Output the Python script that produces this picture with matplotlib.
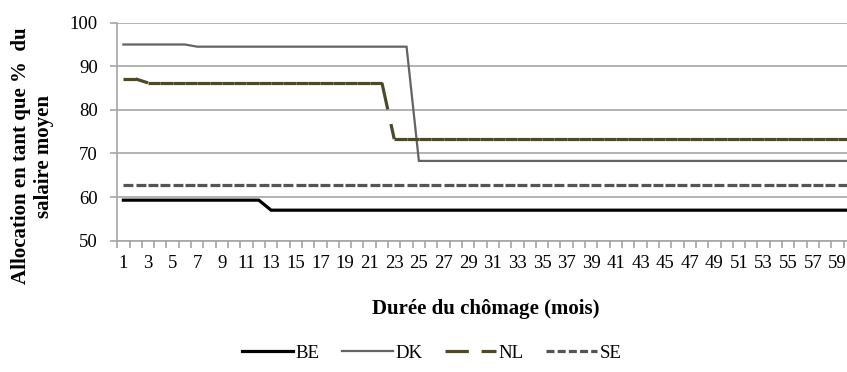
import matplotlib.pyplot as plt
import numpy as np
from matplotlib.collections import LineCollection
from matplotlib.lines import Line2D

plt.rcParams['font.family'] = ['Liberation Serif', 'DejaVu Serif']

# months 1..60 (the last one is cut off by the right edge in the original)
months = np.arange(1, 61)
be = [59.3] * 12 + [57.0] * 48
dk = [95.0] * 6 + [94.5] * 18 + [68.3] * 36
nl = [87.1] * 2 + [86.2] * 20 + [73.3] * 38
se = [62.8] * 60

labels = ['BE', 'DK', 'NL', 'SE']
colors = {'BE': '#000000', 'DK': '#636363', 'NL': '#4d4829', 'SE': '#555555'}

W, H = 847, 372
fig = plt.figure(figsize=(W / 100, H / 100), dpi=100)
ax = fig.add_axes([117.2 / W, 131.3 / H, (856 - 117.2) / W, 218 / H])

grid_c = '#a6a6a6'
ax.set_ylim(50, 100)
ax.set_xlim(0.5, 60.5)
ax.set_yticks(np.arange(50, 101, 10))
ax.yaxis.grid(True, color=grid_c, lw=1.2)
ax.set_axisbelow(True)
for s in ['top', 'right']:
    ax.spines[s].set_visible(False)
for s in ['left', 'bottom']:
    ax.spines[s].set_color(grid_c)
    ax.spines[s].set_linewidth(1.2)

ax.set_xticks(np.arange(1, 61, 2))
ax.set_xticks(np.arange(0.5, 61, 1), minor=True)
ax.tick_params(axis='x', which='major', length=0, pad=10, labelsize=13.5)
ax.tick_params(axis='x', which='minor', length=5, color=grid_c, width=1.2)
ax.tick_params(axis='y', length=5, color=grid_c, width=1.2, pad=9, labelsize=13.5)


def draw(y, key, lw, dashes=None):
    if dashes is None:
        ax.plot(months, y, color=colors[key], lw=lw, solid_joinstyle='miter')
        return
    # dash pattern restarts on every segment, as in the original
    pts = np.column_stack([months, y])
    segs = np.stack([pts[:-1], pts[1:]], axis=1)
    lc = LineCollection(segs, colors=colors[key], linewidths=lw,
                        linestyles=[(0, dashes)], capstyle='butt')
    ax.add_collection(lc)


draw(be, 'BE', 2.3)
draw(dk, 'DK', 1.6)
draw(nl, 'NL', 2.3, (8.5, 4.7))
draw(se, 'SE', 2.3, (3.1, 1.0))

fig.text(32.5 / W, 1 - 156 / H, 'Allocation en tant que %  du\nsalaire moyen',
         rotation=90, ha='center', va='center', multialignment='center',
         fontsize=15, fontweight='bold', linespacing=1.15)
fig.text(486 / W, 1 - 309 / H, 'Durée du chômage (mois)', ha='center', va='center',
         fontsize=15, fontweight='bold')

handles = [
    Line2D([], [], color=colors['BE'], lw=2.3),
    Line2D([], [], color=colors['DK'], lw=1.6),
    Line2D([], [], color=colors['NL'], lw=2.3, dashes=(7.3, 4)),
    Line2D([], [], color=colors['SE'], lw=2.3, dashes=(2.5, 1)),
]
fig.legend(handles, labels, loc='center', bbox_to_anchor=(432 / W, 1 - 353 / H),
           ncol=4, frameon=False, fontsize=13.5, handlelength=2.7,
           handletextpad=0.15, columnspacing=1.2)

fig.savefig('out.png', dpi=100)
